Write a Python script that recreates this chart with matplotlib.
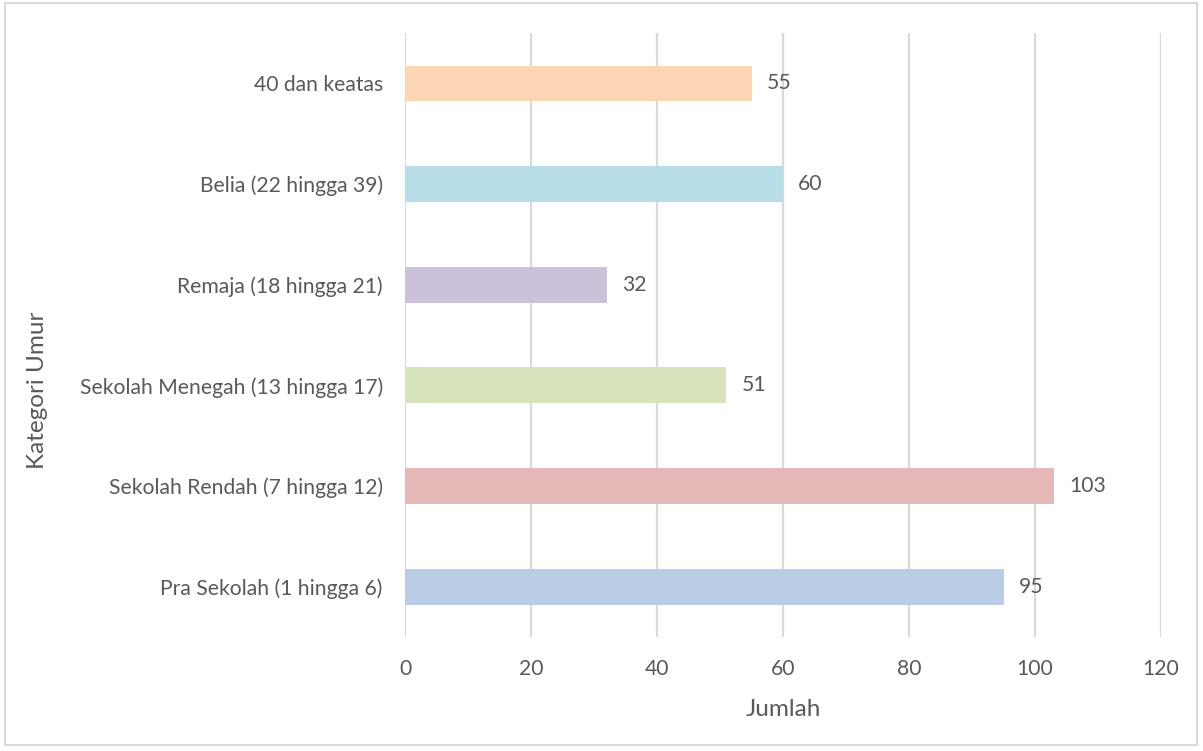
import matplotlib
matplotlib.use("Agg")
import matplotlib.pyplot as plt
from matplotlib.patches import Rectangle

categories = [
    "Pra Sekolah (1 hingga 6)",
    "Sekolah Rendah (7 hingga 12)",
    "Sekolah Menegah (13 hingga 17)",
    "Remaja (18 hingga 21)",
    "Belia (22 hingga 39)",
    "40 dan keatas",
]
values = [95, 103, 51, 32, 60, 55]
colors = ["#B9CDE5", "#E6B9B8", "#D7E4BD", "#CCC1DA", "#B7DEE8", "#FCD5B5"]
x_ticks = [0, 20, 40, 60, 80, 100, 120]

plt.rcParams["font.family"] = ["Lato", "DejaVu Sans"]
text_color = "#595959"

fig = plt.figure(figsize=(12.03, 7.51), dpi=100)
ax = fig.add_axes([0.3367, 0.1518, 0.9651 - 0.3367, 0.956 - 0.1518])

ypos = list(range(len(categories)))
ax.barh(ypos, values, height=0.355, color=colors, zorder=3)
for y, v in zip(ypos, values):
    ax.annotate(str(v), (v, y), xytext=(11, 0), textcoords="offset points",
                va="center", ha="left", fontsize=15.2, color=text_color)

ax.set_xlim(0, 120)
ax.set_ylim(-0.5, 5.5)
ax.set_xticks(x_ticks)
ax.set_yticks(ypos)
ax.set_yticklabels(categories)
ax.grid(axis="x", color="#D9D9D9", linewidth=1.6, zorder=0)
for s in ax.spines.values():
    s.set_visible(False)
ax.tick_params(axis="both", length=0, labelsize=15.2, labelcolor=text_color)
ax.tick_params(axis="x", pad=16)
ax.tick_params(axis="y", pad=16)
ax.set_xlabel("Jumlah", fontsize=17.5, color=text_color, labelpad=14)
ax.set_ylabel("Kategori Umur", fontsize=17.5, color=text_color)
ax.yaxis.set_label_coords(-0.472, 0.409)

fig.patches.append(Rectangle((5 / 1203, 6 / 751), 1192 / 1203, 742 / 751,
                             transform=fig.transFigure, fill=False,
                             edgecolor="#D9D9D9", linewidth=1.5))

fig.savefig("out.png", dpi=100)
